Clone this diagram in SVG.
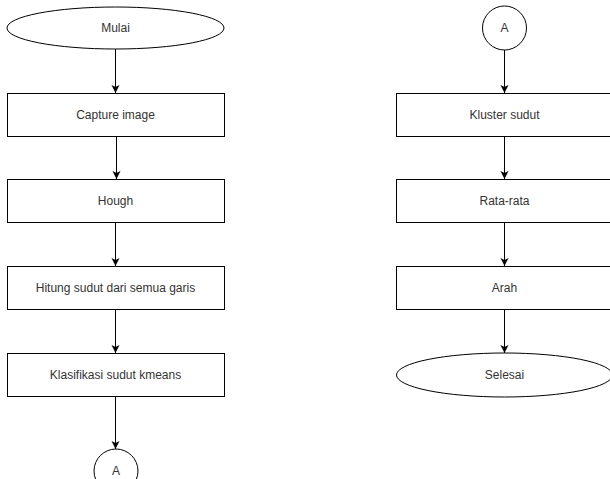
<svg xmlns="http://www.w3.org/2000/svg" width="610" height="479" viewBox="0 0 610 479">
<style>
.n{fill:#fff;stroke:#000;stroke-width:1}
.t{font-family:"Liberation Sans",Arial,sans-serif;font-size:12px;fill:#333;text-anchor:middle;dominant-baseline:central}
.c{stroke:#000;stroke-width:1;fill:none;marker-end:url(#ah)}
</style>
<defs>
<marker id="ah" markerUnits="userSpaceOnUse" markerWidth="10" markerHeight="10" refX="8" refY="4" orient="auto" viewBox="0 0 10 8">
<path d="M0,0 L8,4 L0,8 L2,4 Z" fill="#000"/>
</marker>
</defs>
<rect width="610" height="479" fill="#fff"/>
<g id="connectors">
<path class="c" d="M115.5,49 V93"/>
<path class="c" d="M116.5,136 V179"/>
<path class="c" d="M115.5,223 V266"/>
<path class="c" d="M115.5,310 V353"/>
<path class="c" d="M115.5,397 V449"/>
<path class="c" d="M504.5,50 V93"/>
<path class="c" d="M504.5,136 V179"/>
<path class="c" d="M504.5,223 V266"/>
<path class="c" d="M504.5,310 V353"/>
</g>
<g id="mulai"><ellipse class="n" cx="115.5" cy="28" rx="108.5" ry="21"/><text class="t" x="115.5" y="28">Mulai</text></g>
<g id="capture"><rect class="n" x="7.5" y="93.5" width="217" height="43"/><text class="t" x="115.5" y="115">Capture image</text></g>
<g id="hough"><rect class="n" x="7.5" y="179.5" width="217" height="43"/><text class="t" x="115.5" y="201">Hough</text></g>
<g id="hitung"><rect class="n" x="7.5" y="266.5" width="217" height="43"/><text class="t" x="115.5" y="288">Hitung sudut dari semua garis</text></g>
<g id="klasifikasi"><rect class="n" x="7.5" y="353.5" width="217" height="43"/><text class="t" x="115.5" y="375">Klasifikasi sudut kmeans</text></g>
<g id="a1"><circle class="n" cx="116" cy="471" r="22"/><text class="t" x="116" y="471">A</text></g>
<g id="a2"><circle class="n" cx="504.5" cy="28" r="22"/><text class="t" x="504.5" y="28">A</text></g>
<g id="kluster"><rect class="n" x="396.5" y="93.5" width="217" height="43"/><text class="t" x="504.5" y="115">Kluster sudut</text></g>
<g id="ratarata"><rect class="n" x="396.5" y="179.5" width="217" height="43"/><text class="t" x="504.5" y="201">Rata-rata</text></g>
<g id="arah"><rect class="n" x="396.5" y="266.5" width="217" height="43"/><text class="t" x="504.5" y="288">Arah</text></g>
<g id="selesai"><ellipse class="n" cx="504.5" cy="375" rx="108" ry="22"/><text class="t" x="504.5" y="375">Selesai</text></g>
</svg>
